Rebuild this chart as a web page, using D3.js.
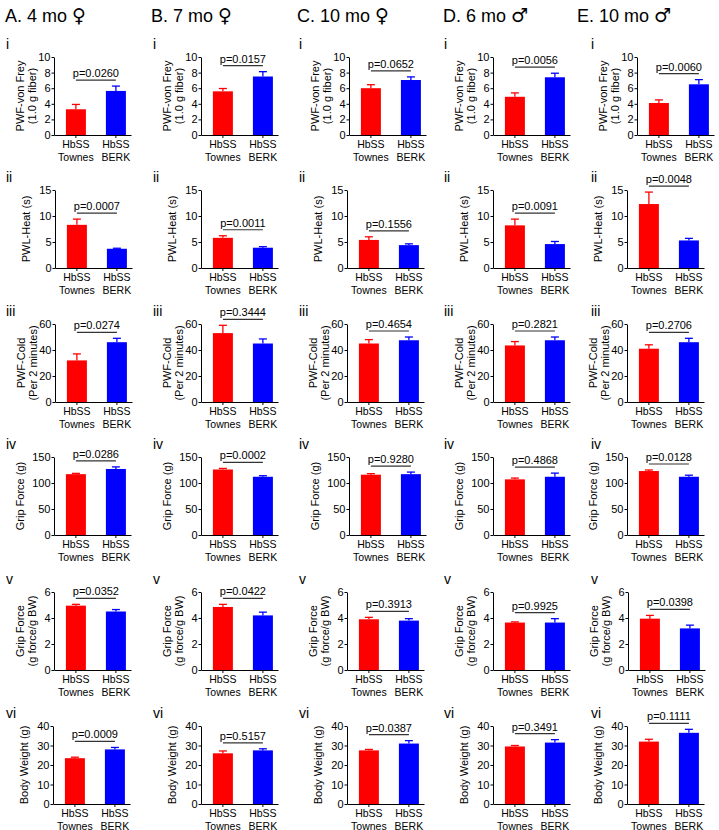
<!DOCTYPE html>
<html><head><meta charset="utf-8">
<script src="https://cdn.jsdelivr.net/npm/d3@7"></script>
<style>body{margin:0;background:#fff}svg text{font-family:"Liberation Sans",Arial,sans-serif}</style>
</head><body>
<script>
// ---------- data ----------
const groups = ["HbSS Townes", "HbSS BERK"];
const groupLines = [["HbSS", "Townes"], ["HbSS", "BERK"]];
const columnTitles = ["A. 4 mo ", "B. 7 mo ", "C. 10 mo ", "D. 6 mo ", "E. 10 mo "];
const columnSex = ["\u2640", "\u2640", "\u2640", "\u2642", "\u2642"];
const rowNumerals = ["i", "ii", "iii", "iv", "v", "vi"];
const yLabels = [
  ["PWF-von Frey", "(1.0 g fiber)"],
  ["PWL-Heat (s)"],
  ["PWF-Cold", "(Per 2 minutes)"],
  ["Grip Force (g)"],
  ["Grip Force", "(g force/g BW)"],
  ["Body Weight (g)"]
];
const yMax = [10, 15, 60, 150, 6, 40];
const yTicks = [
  [0, 2, 4, 6, 8, 10],
  [0, 5, 10, 15],
  [0, 20, 40, 60],
  [0, 50, 100, 150],
  [0, 2, 4, 6],
  [0, 10, 20, 30, 40]
];
// rows = measures (i..vi), columns = A..E
const townesMean = [
  [3.3, 5.6, 6.0, 4.9, 4.1],
  [8.3, 5.8, 5.4, 8.2, 12.3],
  [32, 53, 45, 43.5, 41],
  [117, 126, 116, 107, 123],
  [4.95, 4.85, 3.9, 3.65, 3.95],
  [23.5, 26, 27.5, 29.5, 32]
];
const townesSem = [
  [0.62, 0.36, 0.45, 0.5, 0.4],
  [1.1, 0.4, 0.6, 1.2, 2.3],
  [5, 6, 3, 3, 3],
  [1.5, 2, 2, 2.5, 2],
  [0.1, 0.2, 0.15, 0.05, 0.25],
  [0.5, 1.2, 0.5, 0.5, 1.2]
];
const berkMean = [
  [5.65, 7.5, 7.05, 7.4, 6.5],
  [3.7, 3.9, 4.4, 4.6, 5.3],
  [46, 45, 47.5, 47.5, 46],
  [127, 112, 117, 112, 112],
  [4.5, 4.2, 3.8, 3.65, 3.2],
  [28, 27.5, 31, 31.5, 36.5]
];
const berkSem = [
  [0.62, 0.62, 0.4, 0.52, 0.6],
  [0.1, 0.2, 0.25, 0.5, 0.4],
  [3, 3.5, 2.5, 2.5, 3],
  [4, 2, 4, 7, 3],
  [0.15, 0.25, 0.15, 0.3, 0.25],
  [1, 0.8, 1.5, 1.5, 1.8]
];
const pValues = [
  ["0.0260", "0.0157", "0.0652", "0.0056", "0.0060"],
  ["0.0007", "0.0011", "0.1556", "0.0091", "0.0048"],
  ["0.0274", "0.3444", "0.4654", "0.2821", "0.2706"],
  ["0.0286", "0.0002", "0.9280", "0.4868", "0.0128"],
  ["0.0352", "0.0422", "0.3913", "0.9925", "0.0398"],
  ["0.0009", "0.5157", "0.0387", "0.3491", "0.1111"]
];

// ---------- layout ----------
const W = 719, H = 830;
const titleX = [5, 151, 297, 443, 577];
const numeralX = [6, 153, 299, 444, 591];
const rowTop = [57, 190, 324, 457, 592, 726];
const plotH = 78, plotW = 77;
const axisX = [
  [54, 201, 349, 493, 637],
  [55, 201, 347, 493, 627],
  [55, 201, 347, 493, 627],
  [54, 201, 349, 493, 627],
  [54, 201, 347, 493, 628],
  [53, 201, 347, 493, 627]
];
const colors = ["#ff0000", "#0000ff"];

const svg = d3.select("body").append("svg").attr("width", W).attr("height", H);

columnTitles.forEach((t, c) => {
  const tt = svg.append("text").attr("x", titleX[c]).attr("y", 22).style("font-size", "18px");
  tt.append("tspan").text(t);
  tt.append("tspan").style("font-family", "DejaVu Sans").style("font-size", "19px").text(columnSex[c]);
});

rowNumerals.forEach((num, r) => {
  columnTitles.forEach((t, c) => {
    const ax = axisX[r][c], top = rowTop[r];
    const y = d3.scaleLinear().domain([0, yMax[r]]).range([top + plotH, top]);
    const x = d3.scaleBand().domain(groups).range([ax, ax + plotW])
      .paddingInner(0.5).paddingOuter(0.2125).align(0.7);
    const g = svg.append("g");

    // numeral
    g.append("text").attr("x", numeralX[c]).attr("y", top - 8)
      .style("font-size", "14px").text(num);

    // bars
    const means = [townesMean[r][c], berkMean[r][c]];
    const sems = [townesSem[r][c], berkSem[r][c]];
    groups.forEach((gname, i) => {
      g.append("rect").attr("x", x(gname)).attr("width", x.bandwidth())
        .attr("y", y(means[i])).attr("height", y(0) - y(means[i]))
        .attr("fill", colors[i]);
      const cx = x(gname) + x.bandwidth() / 2;
      g.append("line").attr("x1", cx).attr("x2", cx)
        .attr("y1", y(means[i])).attr("y2", y(means[i] + sems[i]))
        .attr("stroke", colors[i]).attr("stroke-width", 1.3);
      g.append("line").attr("x1", cx - 4).attr("x2", cx + 4)
        .attr("y1", y(means[i] + sems[i])).attr("y2", y(means[i] + sems[i]))
        .attr("stroke", colors[i]).attr("stroke-width", 1.3);
    });

    // y axis
    const ya = g.append("g").attr("transform", `translate(${ax},0)`)
      .call(d3.axisLeft(y).tickValues(yTicks[r]).tickFormat(d3.format("d"))
        .tickSize(2.5).tickSizeOuter(0).tickPadding(1));
    ya.selectAll("text").style("font-size", "11px").attr("fill", "#000");
    ya.selectAll("line,path").attr("stroke", "#000");

    // x axis
    const xa = g.append("g").attr("transform", `translate(0,${top + plotH})`)
      .call(d3.axisBottom(x).tickSize(3).tickSizeOuter(0));
    xa.selectAll("line,path").attr("stroke", "#000");
    xa.selectAll("text").remove();
    groups.forEach((gname, i) => {
      const cx = x(gname) + x.bandwidth() / 2;
      const tx = g.append("text").attr("text-anchor", "middle").style("font-size", "10.5px");
      groupLines[i].forEach((ln, k) => {
        tx.append("tspan").attr("x", cx).attr("y", top + plotH + 13 + k * 12.5).text(ln);
      });
    });

    // y label
    const lines = yLabels[r];
    const ymid = top + plotH / 2;
    const maxTickW = String(yTicks[r][yTicks[r].length - 1]).length;
    lines.forEach((ln, k) => {
      const lx = lines.length === 2 ? ax - 34 + k * 12 : ax - 19 - maxTickW * 5;
      g.append("text").attr("transform", `translate(${lx},${ymid}) rotate(-90)`)
        .attr("text-anchor", "middle").attr("dy", "0.35em")
        .style("font-size", "11px").text(ln);
    });

    // significance bracket
    const topVal = Math.max(means[0] + sems[0], means[1] + sems[1]);
    const by = y(topVal) - 6;
    const c0 = x(groups[0]) + x.bandwidth() / 2, c1 = x(groups[1]) + x.bandwidth() / 2;
    g.append("line").attr("x1", c0).attr("x2", c1).attr("y1", by).attr("y2", by)
      .attr("stroke", "#333").attr("stroke-width", 1.2);
    g.append("text").attr("x", (c0 + c1) / 2).attr("y", by - 3)
      .attr("text-anchor", "middle").style("font-size", "11px")
      .text("p=" + pValues[r][c]);
  });
});
</script>
</body></html>
